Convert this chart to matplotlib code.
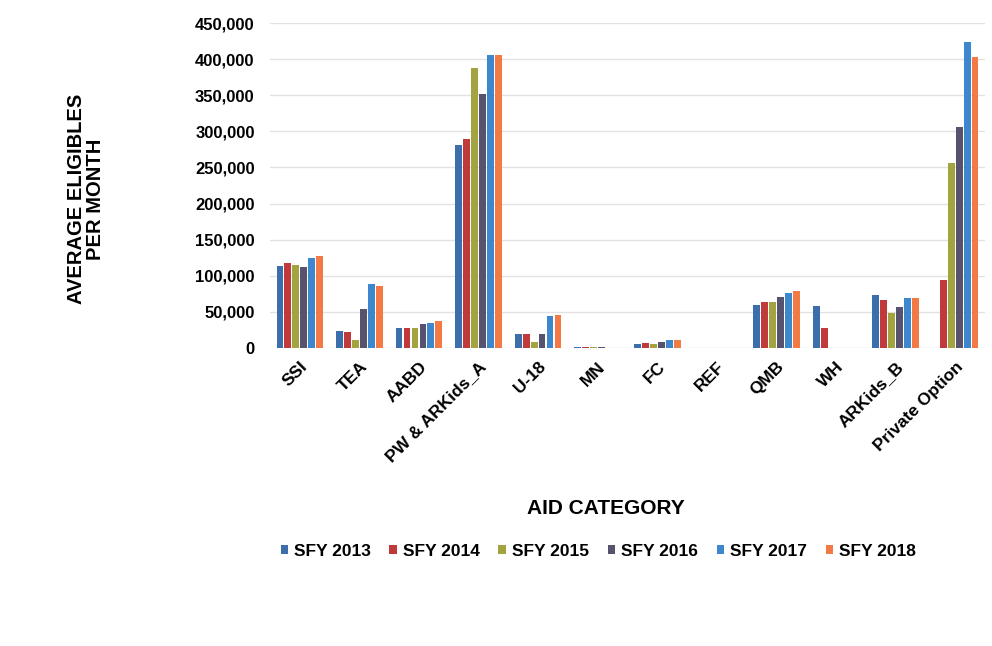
import matplotlib
matplotlib.use("Agg")
import matplotlib.pyplot as plt
import numpy as np
from matplotlib.ticker import FuncFormatter

plt.rcParams['font.family'] = ['Liberation Sans', 'DejaVu Sans']
plt.rcParams['font.weight'] = 'bold'

categories = ["SSI", "TEA", "AABD", "PW & ARKids_A", "U-18", "MN", "FC", "REF",
              "QMB", "WH", "ARKids_B", "Private Option"]
series = ["SFY 2013", "SFY 2014", "SFY 2015", "SFY 2016", "SFY 2017", "SFY 2018"]

sfy2013 = [113500, 23500, 27700, 281000, 19000, 1500, 5500, 100, 59500, 58000, 74000, 0]
sfy2014 = [117700, 22000, 28000, 289000, 19000, 1200, 6500, 100, 64000, 27400, 66500, 94000]
sfy2015 = [115000, 11000, 27700, 388000, 9000, 800, 6000, 100, 64000, 0, 48000, 256500]
sfy2016 = [112000, 54000, 33000, 351700, 19500, 700, 8500, 100, 70400, 0, 57000, 306000]
sfy2017 = [124600, 88600, 35000, 405700, 44700, 600, 10500, 100, 76600, 0, 69000, 424000]
sfy2018 = [127000, 86000, 37400, 405700, 45700, 500, 10500, 100, 79000, 0, 69000, 402700]
values = [sfy2013, sfy2014, sfy2015, sfy2016, sfy2017, sfy2018]

colors = ["#3b6eab", "#c0393b", "#a3a43f", "#57526e", "#3d87cf", "#f47a45"]

fig = plt.figure(figsize=(9.92, 6.46), dpi=100)
ax = fig.add_axes([270/992, 1-348/646, 715/992, 325/646])

n = len(series)
x = np.arange(len(categories))
group_w = 0.8
w = group_w / n
for i, (s, v, c) in enumerate(zip(series, values, colors)):
    ax.bar(x - group_w/2 + w*(i+0.5), v, width=w*0.85, color=c, label=s, zorder=3)

ax.set_xlim(-0.5, len(categories)-0.5)
ax.set_ylim(0, 450000)
ax.set_yticks(np.arange(0, 450001, 50000))
ax.yaxis.set_major_formatter(FuncFormatter(lambda v, p: "0" if v == 0 else f"{int(v):,}"))
ax.grid(axis='y', color='#e2e2e2', linewidth=1, zorder=0)
for sp in ax.spines.values():
    sp.set_visible(False)
ax.tick_params(axis='both', length=0)
ax.tick_params(axis='y', labelsize=12, pad=11)
ax.set_xticks(x)
ax.set_xticklabels(categories, rotation=45, ha='right', rotation_mode='anchor',
                   fontsize=12.5, fontweight='bold')
ax.tick_params(axis='x', pad=8)
for lab in ax.get_yticklabels():
    lab.set_fontweight('bold')

fig.text(86/992, 1-199/646, "AVERAGE ELIGIBLES\nPER MONTH", rotation=90,
         ha='center', va='center', fontsize=14.5, fontweight='bold', linespacing=1.05)
fig.text(606/992, 1-508/646, "AID CATEGORY", ha='center', va='center',
         fontsize=15, fontweight='bold')

leg = fig.legend(loc='center', bbox_to_anchor=(598/992, 1-551/646), ncol=6,
                 frameon=False, fontsize=12.5, handlelength=0.45, handleheight=0.45,
                 handletextpad=0.3, columnspacing=1.1)
for t in leg.get_texts():
    t.set_fontweight('bold')

fig.savefig("out.png", dpi=100)
